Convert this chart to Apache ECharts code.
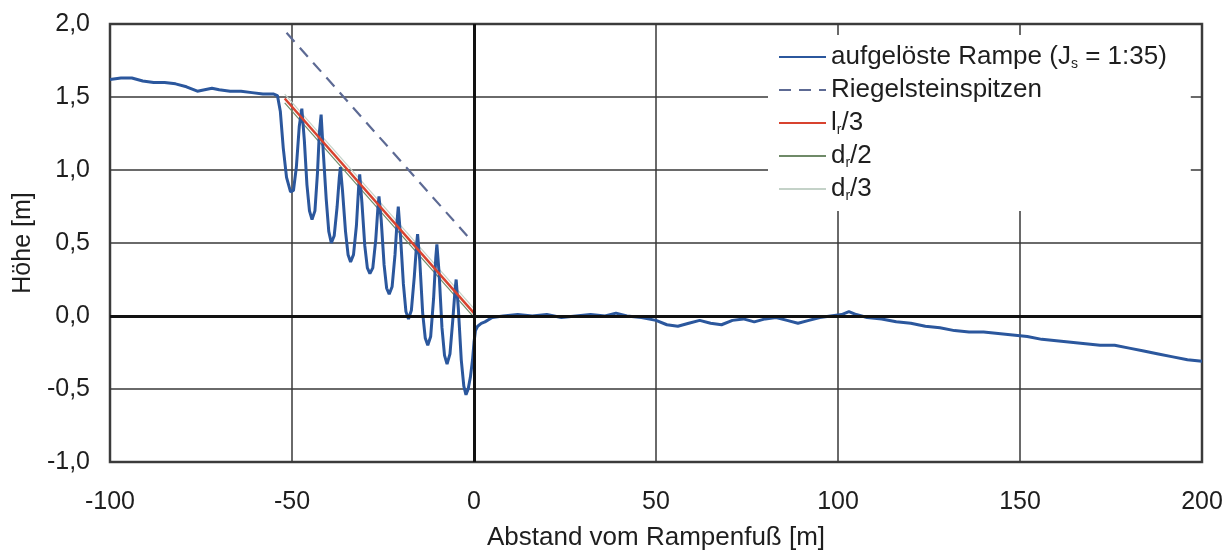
<!DOCTYPE html>
<html>
<head>
<meta charset="utf-8">
<script src="https://cdn.jsdelivr.net/npm/echarts@6/dist/echarts.min.js"></script>
<style>
  html, body { margin: 0; padding: 0; background: #ffffff; }
  #chart { width: 1224px; height: 553px; }
</style>
</head>
<body>
<div id="chart"></div>
<script>
// Längsprofil einer aufgelösten Rampe: gemessene Sohle und Bezugslinien

const xRange = { min: -100, max: 200, step: 50 };
const yRange = { min: -1, max: 2, step: 0.5 };

const seriesNames = [
  'aufgelöste Rampe (J_s = 1:35)',
  'Riegelsteinspitzen',
  'l_r/3',
  'd_r/2',
  'd_r/3'
];

// gemessene Sohle oberstrom der Rampe [Abstand m, Höhe m]
const upstreamProfile = [
  [-100, 1.62], [-97, 1.63], [-94, 1.63], [-91, 1.61], [-88, 1.60], [-85, 1.60],
  [-82, 1.59], [-79, 1.57], [-76, 1.54], [-74, 1.55], [-72, 1.56], [-70, 1.55],
  [-67, 1.54], [-64, 1.54], [-61, 1.53], [-58, 1.52], [-55, 1.52], [-54, 1.51]
];

// gemessene Sohle auf der Rampe: Riegel und Becken
const rampProfile = [
  [-53.2, 1.40], [-52.4, 1.15], [-51.5, 0.95], [-50.4, 0.85], [-49.6, 0.86], [-48.8, 1.02], [-48.0, 1.30], [-47.3, 1.42],
  [-46.6, 1.20], [-45.9, 0.90], [-45.2, 0.72], [-44.5, 0.66], [-43.7, 0.72], [-43.0, 0.98], [-42.5, 1.25], [-42.0, 1.38],
  [-41.4, 1.12], [-40.6, 0.80], [-39.9, 0.58], [-39.2, 0.50], [-38.4, 0.55], [-37.6, 0.75], [-37.0, 0.95], [-36.7, 1.02],
  [-36.1, 0.85], [-35.3, 0.58], [-34.6, 0.42], [-33.9, 0.37], [-33.1, 0.42], [-32.3, 0.62], [-31.7, 0.88], [-31.4, 0.97],
  [-30.8, 0.78], [-30.0, 0.48], [-29.3, 0.33], [-28.6, 0.29], [-27.8, 0.33], [-27.0, 0.52], [-26.4, 0.74], [-26.1, 0.82],
  [-25.5, 0.66], [-24.7, 0.35], [-24.0, 0.19], [-23.3, 0.15], [-22.5, 0.20], [-21.7, 0.42], [-21.1, 0.66], [-20.8, 0.75],
  [-20.2, 0.55], [-19.4, 0.22], [-18.7, 0.03], [-18.0, -0.02], [-17.2, 0.04], [-16.4, 0.27], [-15.8, 0.48], [-15.5, 0.56],
  [-14.9, 0.38], [-14.1, 0.02], [-13.4, -0.15], [-12.7, -0.20], [-11.9, -0.14], [-11.1, 0.12], [-10.5, 0.40], [-10.2, 0.49],
  [-9.6, 0.30], [-8.8, -0.08], [-8.1, -0.27], [-7.4, -0.33], [-6.6, -0.26], [-5.8, -0.02], [-5.2, 0.18], [-4.9, 0.25],
  [-4.3, 0.05], [-3.5, -0.30], [-2.8, -0.48], [-2.2, -0.54], [-1.6, -0.50], [-1.0, -0.42], [-0.4, -0.30], [0.0, -0.18],
  [0.4, -0.10]
];

// gemessene Sohle unterstrom des Rampenfußes
const downstreamProfile = [
  [1, -0.07], [2, -0.05], [3, -0.04], [5, -0.01], [8, 0.00], [12, 0.01], [16, 0.00], [20, 0.01],
  [24, -0.01], [28, 0.00], [32, 0.01], [36, 0.00], [39, 0.02], [42, 0.00], [46, -0.01], [50, -0.03],
  [53, -0.06], [56, -0.07], [59, -0.05], [62, -0.03], [65, -0.05], [68, -0.06], [71, -0.03], [74, -0.02],
  [77, -0.04], [80, -0.02], [83, -0.01], [86, -0.03], [89, -0.05], [92, -0.03], [95, -0.01], [98, 0.00],
  [101, 0.01], [103, 0.03], [105, 0.01], [108, -0.01], [112, -0.02], [116, -0.04], [120, -0.05], [124, -0.07],
  [128, -0.08], [132, -0.10], [136, -0.11], [140, -0.11], [144, -0.12], [148, -0.13], [152, -0.14], [156, -0.16],
  [160, -0.17], [164, -0.18], [168, -0.19], [172, -0.20], [176, -0.20], [180, -0.22], [184, -0.24], [188, -0.26],
  [192, -0.28], [196, -0.30], [200, -0.31]
];

// Bezugslinien mit dem Rampengefälle 1:35
const riegelTips = [[-51.5, 1.94], [-0.5, 0.51]];
const lrThird = [[-52, 1.49], [0, 0.02]];
const drHalf = [[-52, 1.46], [0, -0.01]];
const drThird = [[-52, 1.52], [0, 0.05]];

const FONT = '"Liberation Sans", Arial, Helvetica, sans-serif';
const TEXT_COLOR = '#1e1e1e';
const measured = upstreamProfile.concat(rampProfile, downstreamProfile);

const chart = echarts.init(document.getElementById('chart'), null, { renderer: 'canvas' });

function lineSeries(name, data, color, width, type, z) {
  return {
    name: name,
    type: 'line',
    data: data,
    symbol: 'none',
    showSymbol: false,
    smooth: false,
    z: z,
    lineStyle: { color: color, width: width, type: type },
    itemStyle: { color: color },
    emphasis: { disabled: true }
  };
}

chart.setOption({
  animation: false,
  backgroundColor: '#ffffff',
  grid: {
    left: 110, right: 22, top: 24, bottom: 91,
    outerBoundsMode: 'none', containLabel: false,
    show: true, borderColor: '#454545', borderWidth: 2.5, backgroundColor: 'transparent'
  },
  legend: {
    data: seriesNames,
    orient: 'vertical',
    left: 768, top: 35,
    backgroundColor: '#ffffff',
    padding: [8, 24, 8, 10],
    itemWidth: 47, itemHeight: 14, itemGap: 5,
    selectedMode: false,
    itemStyle: { opacity: 0, borderWidth: 0 },
    formatter: function (n) { return n.replace(/_(\w)/, '{sub|$1}'); },
    textStyle: {
      fontFamily: FONT, fontSize: 26, color: TEXT_COLOR, lineHeight: 28,
      rich: { sub: { fontFamily: FONT, fontSize: 14, color: TEXT_COLOR, verticalAlign: 'bottom', lineHeight: 28 } }
    }
  },
  xAxis: {
    type: 'value',
    min: xRange.min, max: xRange.max, interval: xRange.step,
    name: 'Abstand vom Rampenfuß [m]',
    nameLocation: 'middle', nameGap: 63,
    nameTextStyle: { fontFamily: FONT, fontSize: 26, color: TEXT_COLOR },
    axisLine: { show: false, onZero: false },
    axisTick: { show: false },
    axisLabel: { fontFamily: FONT, fontSize: 25, color: TEXT_COLOR, margin: 28 },
    splitLine: { show: true, lineStyle: { color: '#383838', width: 1.5 } }
  },
  yAxis: {
    type: 'value',
    min: yRange.min, max: yRange.max, interval: yRange.step,
    name: 'Höhe [m]',
    nameLocation: 'middle', nameGap: 74,
    nameTextStyle: { fontFamily: FONT, fontSize: 25, color: TEXT_COLOR },
    axisLine: { show: false, onZero: false },
    axisTick: { show: false },
    axisLabel: {
      fontFamily: FONT, fontSize: 25, color: TEXT_COLOR, margin: 20,
      formatter: function (v) { return v.toFixed(1).replace('.', ','); }
    },
    splitLine: { show: true, lineStyle: { color: '#383838', width: 1.5 } }
  },
  series: [
    {
      type: 'line', data: [], silent: true, z: 1,
      markLine: {
        silent: true, symbol: 'none', animation: false,
        label: { show: false },
        lineStyle: { color: '#111111', width: 3, type: 'solid' },
        emphasis: { disabled: true },
        data: [{ xAxis: 0 }, { yAxis: 0 }]
      }
    },
    lineSeries(seriesNames[4], drThird, '#c4d2c8', 1.2, 'solid', 2),
    lineSeries(seriesNames[3], drHalf, '#6f8a68', 1.2, 'solid', 2),
    lineSeries(seriesNames[0], measured, '#2b579d', 3, 'solid', 3),
    lineSeries(seriesNames[2], lrThird, '#d8432f', 2.5, 'solid', 4),
    lineSeries(seriesNames[1], riegelTips, '#5d6a94', 2.2, [12, 8], 4)
  ]
});
</script>
</body>
</html>
